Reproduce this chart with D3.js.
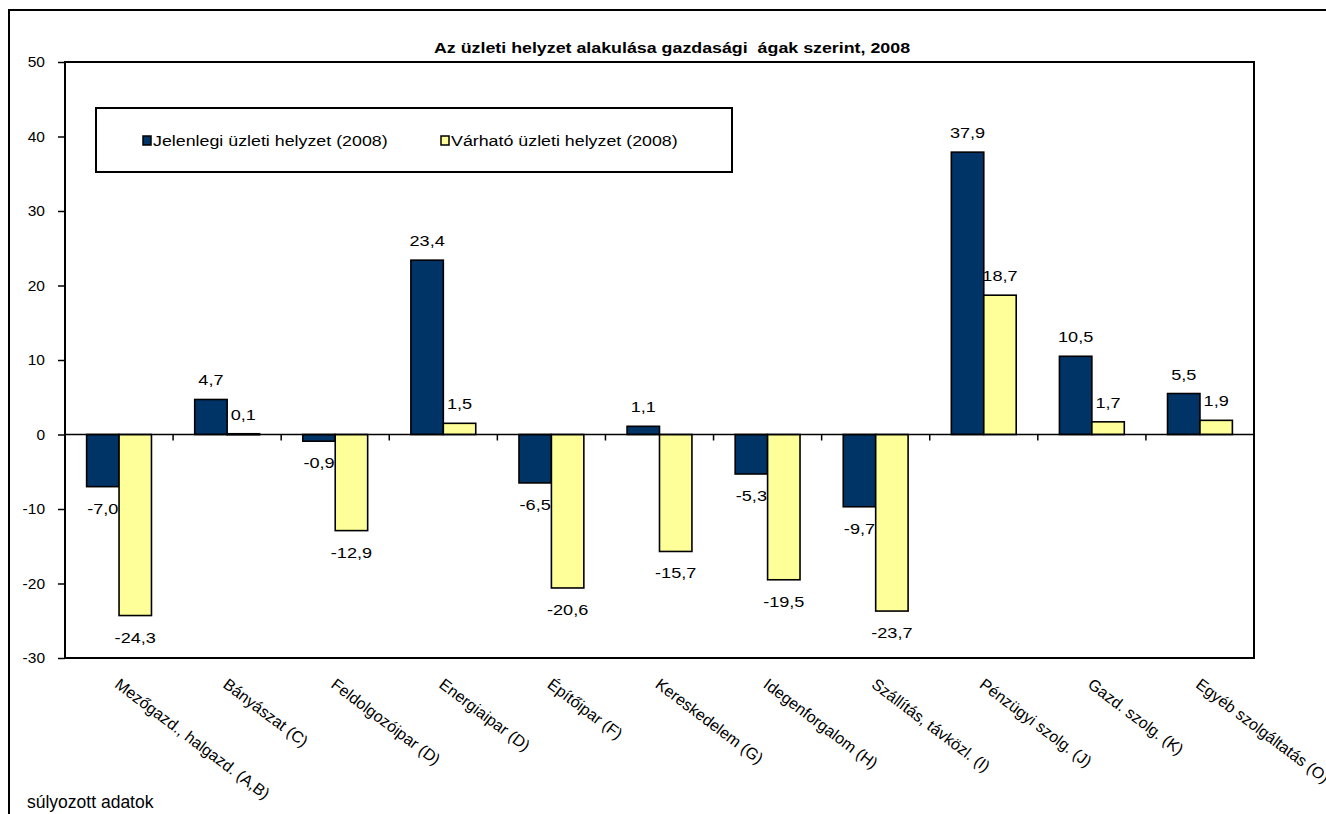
<!DOCTYPE html>
<html><head><meta charset="utf-8">
<script src="https://cdn.jsdelivr.net/npm/d3@7"></script>
<style>
body{margin:0;background:#fff;}
text{font-family:"Liberation Sans",Arial,sans-serif;fill:#000;}
</style></head>
<body><svg id="c" width="1326" height="814"></svg>
<script>
const categories = ["Mezőgazd., halgazd. (A,B)","Bányászat (C)","Feldolgozóipar (D)","Energiaipar (D)","Építőipar (F)","Kereskedelem (G)","Idegenforgalom (H)","Szállítás, távközl. (I)","Pénzügyi szolg. (J)","Gazd. szolg. (K)","Egyéb szolgáltatás (O)"];
const seriesNames = ["Jelenlegi üzleti helyzet (2008)","Várható üzleti helyzet (2008)"];
const current = [-7.0, 4.7, -0.9, 23.4, -6.5, 1.1, -5.3, -9.7, 37.9, 10.5, 5.5];
const expected = [-24.3, 0.1, -12.9, 1.5, -20.6, -15.7, -19.5, -23.7, 18.7, 1.7, 1.9];
const yTicks = [50, 40, 30, 20, 10, 0, -10, -20, -30];
const colors = ["#003366", "#FFFF99"];
const title = "Az üzleti helyzet alakulása gazdasági  ágak szerint, 2008";
const note = "súlyozott adatok";

const svg = d3.select("#c");
const L = 65, T = 62, R = 1254, B = 658;
const SX = 1.17;

// helper: text placed at (x,y), horizontally stretched
function stext(parent, x, y, str, size, anchor, sx) {
  return parent.append("text")
    .attr("transform", `translate(${x},${y}) scale(${sx},1)`)
    .attr("text-anchor", anchor).attr("font-size", size).text(str);
}

// outer frame
svg.append("rect").attr("x", 9).attr("y", 10).attr("width", 1330).attr("height", 820)
  .attr("fill", "#fff").attr("stroke", "#000").attr("stroke-width", 2);

stext(svg, 672, 53, title, 15.5, "middle", 1.15).attr("font-weight", "bold").style("white-space", "pre");

const y = d3.scaleLinear().domain([-30, 50]).range([B, T]);
const x0 = d3.scaleBand().domain(categories).range([L, R]).paddingInner(0.4).paddingOuter(0.2);
const x1 = d3.scaleBand().domain([0, 1]).range([0, x0.bandwidth()]);

// plot frame
svg.append("rect").attr("x", L).attr("y", T).attr("width", R - L).attr("height", B - T)
  .attr("fill", "#fff").attr("stroke", "#000").attr("stroke-width", 2);

// y axis
const yAxis = d3.axisLeft(y).tickValues(yTicks).tickSize(7).tickPadding(13)
  .tickFormat(d => String(d));
const ga = svg.append("g").attr("transform", `translate(${L},0)`).call(yAxis);
ga.select(".domain").remove();
ga.selectAll(".tick line").attr("stroke", "#000").attr("stroke-width", 1.5);
ga.selectAll(".tick text").attr("font-size", 15.5).attr("fill", "#000")
  .attr("font-family", "Liberation Sans, Arial, sans-serif");

// category ticks on zero line
const step = (R - L) / categories.length;
const bounds = d3.range(1, categories.length).map(i => L + i * step);
svg.selectAll(".ctick").data(bounds).enter().append("line")
  .attr("x1", d => d).attr("x2", d => d).attr("y1", y(0)).attr("y2", y(0) + 6)
  .attr("stroke", "#000").attr("stroke-width", 1.5);

const data = categories.map((c, i) => ({c, v: [current[i], expected[i]]}));
const groups = svg.selectAll(".grp").data(data).enter().append("g")
  .attr("transform", d => `translate(${x0(d.c)},0)`);

groups.selectAll("rect").data(d => d.v.map((v, s) => ({v, s}))).enter().append("rect")
  .attr("x", d => x1(d.s)).attr("width", x1.bandwidth())
  .attr("y", d => Math.min(y(d.v), y(0)))
  .attr("height", d => Math.max(1, Math.abs(y(d.v) - y(0))))
  .attr("fill", d => colors[d.s]).attr("stroke", "#000").attr("stroke-width", 1.6);

// zero line
svg.append("line").attr("x1", L).attr("x2", R).attr("y1", y(0)).attr("y2", y(0))
  .attr("stroke", "#000").attr("stroke-width", 1.5);

const fmt = v => v.toFixed(1).replace(".", ",");
groups.each(function(d) {
  const g = d3.select(this);
  d.v.forEach((v, s) => {
    const lx = x1(s) + x1.bandwidth() / 2;
    const ly = v >= 0 ? y(v) - 14 : y(v) + 27;
    stext(g, lx, ly, fmt(v), 15.5, "middle", SX);
  });
});

// category labels
svg.selectAll(".xl").data(categories).enter().append("text")
  .attr("transform", d => `translate(${x0(d) + x0.bandwidth() / 2 + 2},${677}) rotate(37)`)
  .attr("dy", "0.75em").attr("font-size", 16).text(d => d);

// legend
svg.append("rect").attr("x", 96).attr("y", 108).attr("width", 636).attr("height", 64)
  .attr("fill", "#fff").attr("stroke", "#000").attr("stroke-width", 2);
const lx = [143, 441];
seriesNames.forEach((n, i) => {
  svg.append("rect").attr("x", lx[i]).attr("y", 136).attr("width", 8).attr("height", 9)
    .attr("fill", colors[i]).attr("stroke", "#000").attr("stroke-width", 1.5);
  stext(svg, lx[i] + 10, 146, n, 15.5, "start", 1.15);
});

svg.append("text").attr("x", 27).attr("y", 808).attr("font-size", 17.5).text(note);
</script></body></html>
